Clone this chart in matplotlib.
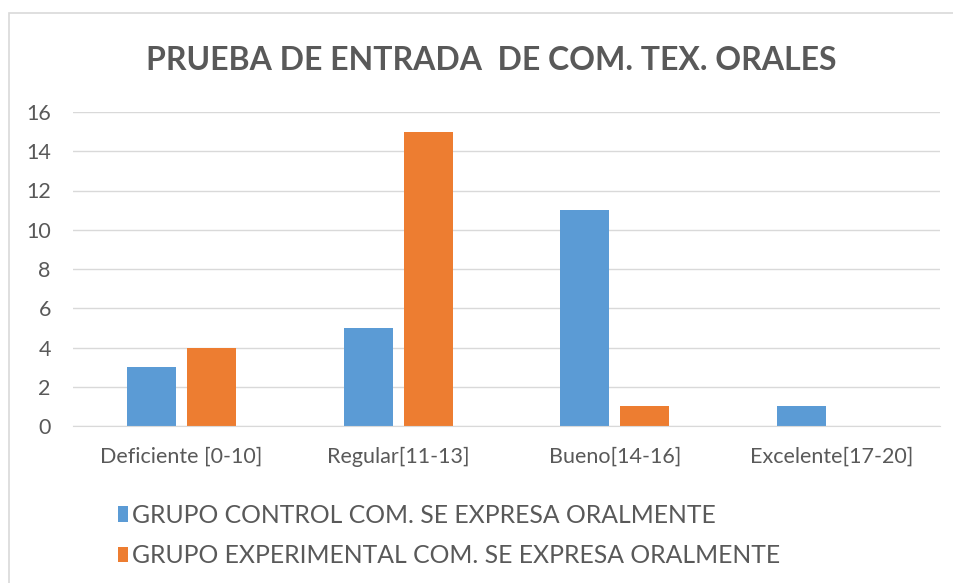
import matplotlib.pyplot as plt
import numpy as np
from matplotlib.patches import Rectangle

categories = ["Deficiente [0-10]", "Regular[11-13]", "Bueno[14-16]", "Excelente[17-20]"]
control = [3, 5, 11, 1]
experimental = [4, 15, 1, 0]
series_names = ["GRUPO CONTROL COM. SE EXPRESA ORALMENTE",
                "GRUPO EXPERIMENTAL COM. SE EXPRESA ORALMENTE"]
yticks = [0, 2, 4, 6, 8, 10, 12, 14, 16]

plt.rcParams['font.family'] = ['Lato', 'DejaVu Sans']
text_color = "#595959"
blue = "#5b9bd5"
orange = "#ed7d31"

fig = plt.figure(figsize=(9.54, 5.83), dpi=100)
W, H = 954, 583

# chart frame (Excel style border)
fig.patches.append(Rectangle((9 / W, -0.05), 1.2, 1 - 13 / H + 0.05,
                             transform=fig.transFigure, fill=False,
                             edgecolor="#d9d9d9", linewidth=1.2))

ax = fig.add_axes([73 / W, 1 - 426 / H, (940 - 73) / W, (426 - 112) / H])

x = np.arange(len(categories))
width = 0.226
off = 0.138
ax.bar(x - off, control, width, color=blue, label=series_names[0])
ax.bar(x + off, experimental, width, color=orange, label=series_names[1])

ax.set_xlim(-0.5, len(categories) - 0.5)
ax.set_ylim(0, 16)
ax.set_yticks(yticks)
ax.set_xticks(x)
ax.set_xticklabels(categories)
ax.tick_params(axis='both', length=0, labelsize=15.5, colors=text_color)
ax.tick_params(axis='y', pad=16)
ax.tick_params(axis='x', pad=15)
ax.grid(axis='y', color="#d9d9d9", linewidth=1)
ax.set_axisbelow(True)
for s in ["top", "right", "left"]:
    ax.spines[s].set_visible(False)
ax.spines["bottom"].set_color("#d9d9d9")

fig.text(491 / W, 1 - 60 / H, "PRUEBA DE ENTRADA  DE COM. TEX. ORALES",
         ha="center", va="center", fontsize=23, fontweight="bold", color=text_color)

leg = fig.legend(loc="upper left", bbox_to_anchor=(118 / W, 1 - 504 / H),
                 frameon=False, fontsize=17.8, labelcolor=text_color,
                 borderpad=0, borderaxespad=0,
                 handlelength=0.4, handleheight=0.6, handletextpad=0.15,
                 labelspacing=0.7)

fig.savefig("out.png", dpi=100)
